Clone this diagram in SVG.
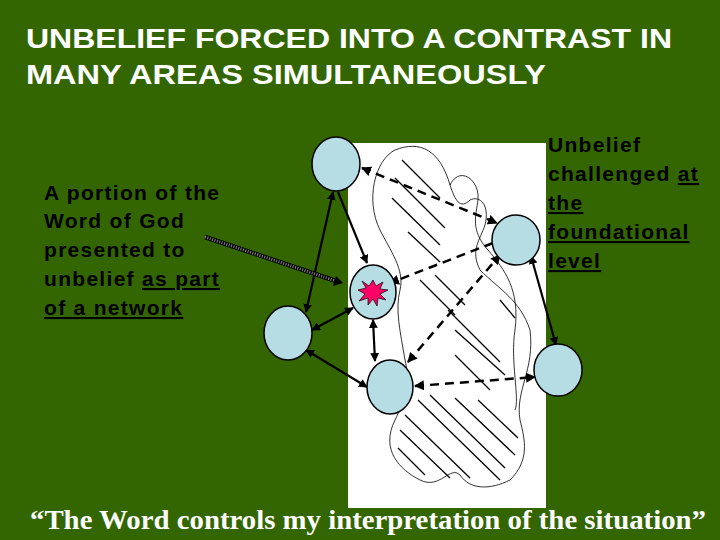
<svg xmlns="http://www.w3.org/2000/svg" width="720" height="540" viewBox="0 0 720 540">
<style>
.t{font-family:"Liberation Sans",Arial,sans-serif;font-weight:bold}
.l{letter-spacing:1.3px}
.n{fill:#b7dde4;stroke:#000;stroke-width:1.5}
.s{stroke:#000;stroke-width:2.2;fill:none;marker-start:url(#a);marker-end:url(#a)}
.d{stroke:#000;stroke-width:2.5;fill:none;stroke-dasharray:9,6;marker-start:url(#a);marker-end:url(#a)}
.h{stroke:#000;stroke-width:1.3}
.b{fill:none;stroke:#000;stroke-width:0.8}
</style>
<defs><marker id="a" viewBox="0 0 10 10" refX="9" refY="5" markerWidth="4" markerHeight="4" orient="auto-start-reverse"><path d="M0,0L10,5L0,10z"/></marker></defs>
<rect width="720" height="540" fill="#336600"/>
<rect x="348" y="143" width="198" height="365" fill="#fff"/>
<g id="blob">
<path class="b" d="M395,150 C420,140 440,150 450,185 C455,200 460,210 470,200 C480,195 490,205 485,225 C480,240 470,250 480,270 C500,290 520,300 530,330 C535,370 515,390 520,420 C525,440 530,460 510,480 C490,490 470,490 460,475 C450,465 440,490 420,480 C400,470 380,450 395,420 C405,400 410,380 405,360 C400,330 395,310 400,290 C405,270 390,250 380,230 C365,200 375,160 395,150 Z"/>
<path class="b" d="M450,185 C460,165 480,180 478,200 C476,215 470,230 488,250 C505,270 520,290 515,330 C510,360 520,400 515,410"/>
<g class="h">
<line x1="402" y1="160" x2="440" y2="198"/><line x1="395" y1="178" x2="445" y2="228"/><line x1="392" y1="198" x2="440" y2="245"/><line x1="408" y1="232" x2="440" y2="262"/>
<line x1="420" y1="280" x2="455" y2="315"/><line x1="435" y1="275" x2="465" y2="305"/><line x1="448" y1="310" x2="500" y2="362"/><line x1="455" y1="330" x2="505" y2="375"/><line x1="455" y1="355" x2="490" y2="390"/><line x1="500" y1="300" x2="515" y2="318"/>
<line x1="418" y1="400" x2="500" y2="480"/><line x1="405" y1="415" x2="470" y2="478"/><line x1="400" y1="430" x2="450" y2="478"/><line x1="398" y1="448" x2="425" y2="475"/><line x1="430" y1="395" x2="505" y2="468"/><line x1="455" y1="398" x2="515" y2="455"/><line x1="478" y1="400" x2="518" y2="438"/>
</g>
</g>
<g id="connectors">
<line class="d" x1="362" y1="168" x2="497" y2="223"/>
<line class="d" x1="493" y1="243" x2="390" y2="283" style="marker-start:none"/>
<line class="d" x1="408" y1="362" x2="500" y2="255"/>
<line class="d" x1="415" y1="386" x2="535" y2="377"/>
<line class="s" x1="333" y1="192" x2="306" y2="312"/>
<line class="s" x1="338" y1="192" x2="367" y2="263" style="marker-start:none"/>
<line class="s" x1="312" y1="330" x2="353" y2="308"/>
<line class="s" x1="373" y1="320" x2="375" y2="361"/>
<line class="s" x1="306" y1="350" x2="367" y2="387"/>
<line class="s" x1="531" y1="256" x2="556" y2="345"/>
<line x1="205" y1="237" x2="336" y2="281" stroke="#000" stroke-width="4.5"/>
<line x1="205" y1="237" x2="336" y2="281" stroke="#888" stroke-width="3" stroke-dasharray="1,1.5"/>
<path d="M343,283L333,286L336,276z"/>
</g>
<g id="n1"><ellipse class="n" cx="336" cy="164" rx="24" ry="27"/></g>
<g id="n2"><ellipse class="n" cx="516" cy="240" rx="24" ry="25"/></g>
<g id="n3"><ellipse class="n" cx="373" cy="292" rx="23" ry="27"/>
<polygon points="373,280 376,286 383,282 380,289 388,290 380,294 386,300 378,298 377,306 373,299 368,305 368,298 359,301 365,294 358,290 366,288 362,281 369,286" fill="#ff0066" stroke="#000" stroke-width="0.7"/></g>
<g id="n4"><ellipse class="n" cx="288" cy="333" rx="24" ry="27"/></g>
<g id="n5"><ellipse class="n" cx="390" cy="387" rx="23" ry="27"/></g>
<g id="n6"><ellipse class="n" cx="558" cy="370" rx="24" ry="26"/></g>
<g class="t" fill="#fff" font-size="28"><text x="26" y="48" textLength="646" lengthAdjust="spacingAndGlyphs">UNBELIEF FORCED INTO A CONTRAST IN</text><text x="26" y="84" textLength="520" lengthAdjust="spacingAndGlyphs">MANY AREAS SIMULTANEOUSLY</text></g>
<g id="left" class="t l" font-size="21" fill="#000"><text x="44" y="200">A portion of the</text><text x="44" y="228">Word of God</text><text x="44" y="257">presented to</text><text x="44" y="286">unbelief <tspan text-decoration="underline">as part</tspan></text><text x="44" y="315" text-decoration="underline">of a network</text></g>
<g id="right" class="t l" font-size="21" fill="#000"><text x="548" y="152">Unbelief</text><text x="548" y="181">challenged <tspan text-decoration="underline">at</tspan></text><text x="548" y="210" text-decoration="underline">the</text><text x="548" y="239" text-decoration="underline">foundational</text><text x="548" y="268" text-decoration="underline">level</text></g>
<text x="30" y="529" textLength="676" lengthAdjust="spacingAndGlyphs" font-family="Liberation Serif,serif" font-weight="bold" font-size="27" fill="#fff">“The Word controls my interpretation of the situation”</text>
</svg>
